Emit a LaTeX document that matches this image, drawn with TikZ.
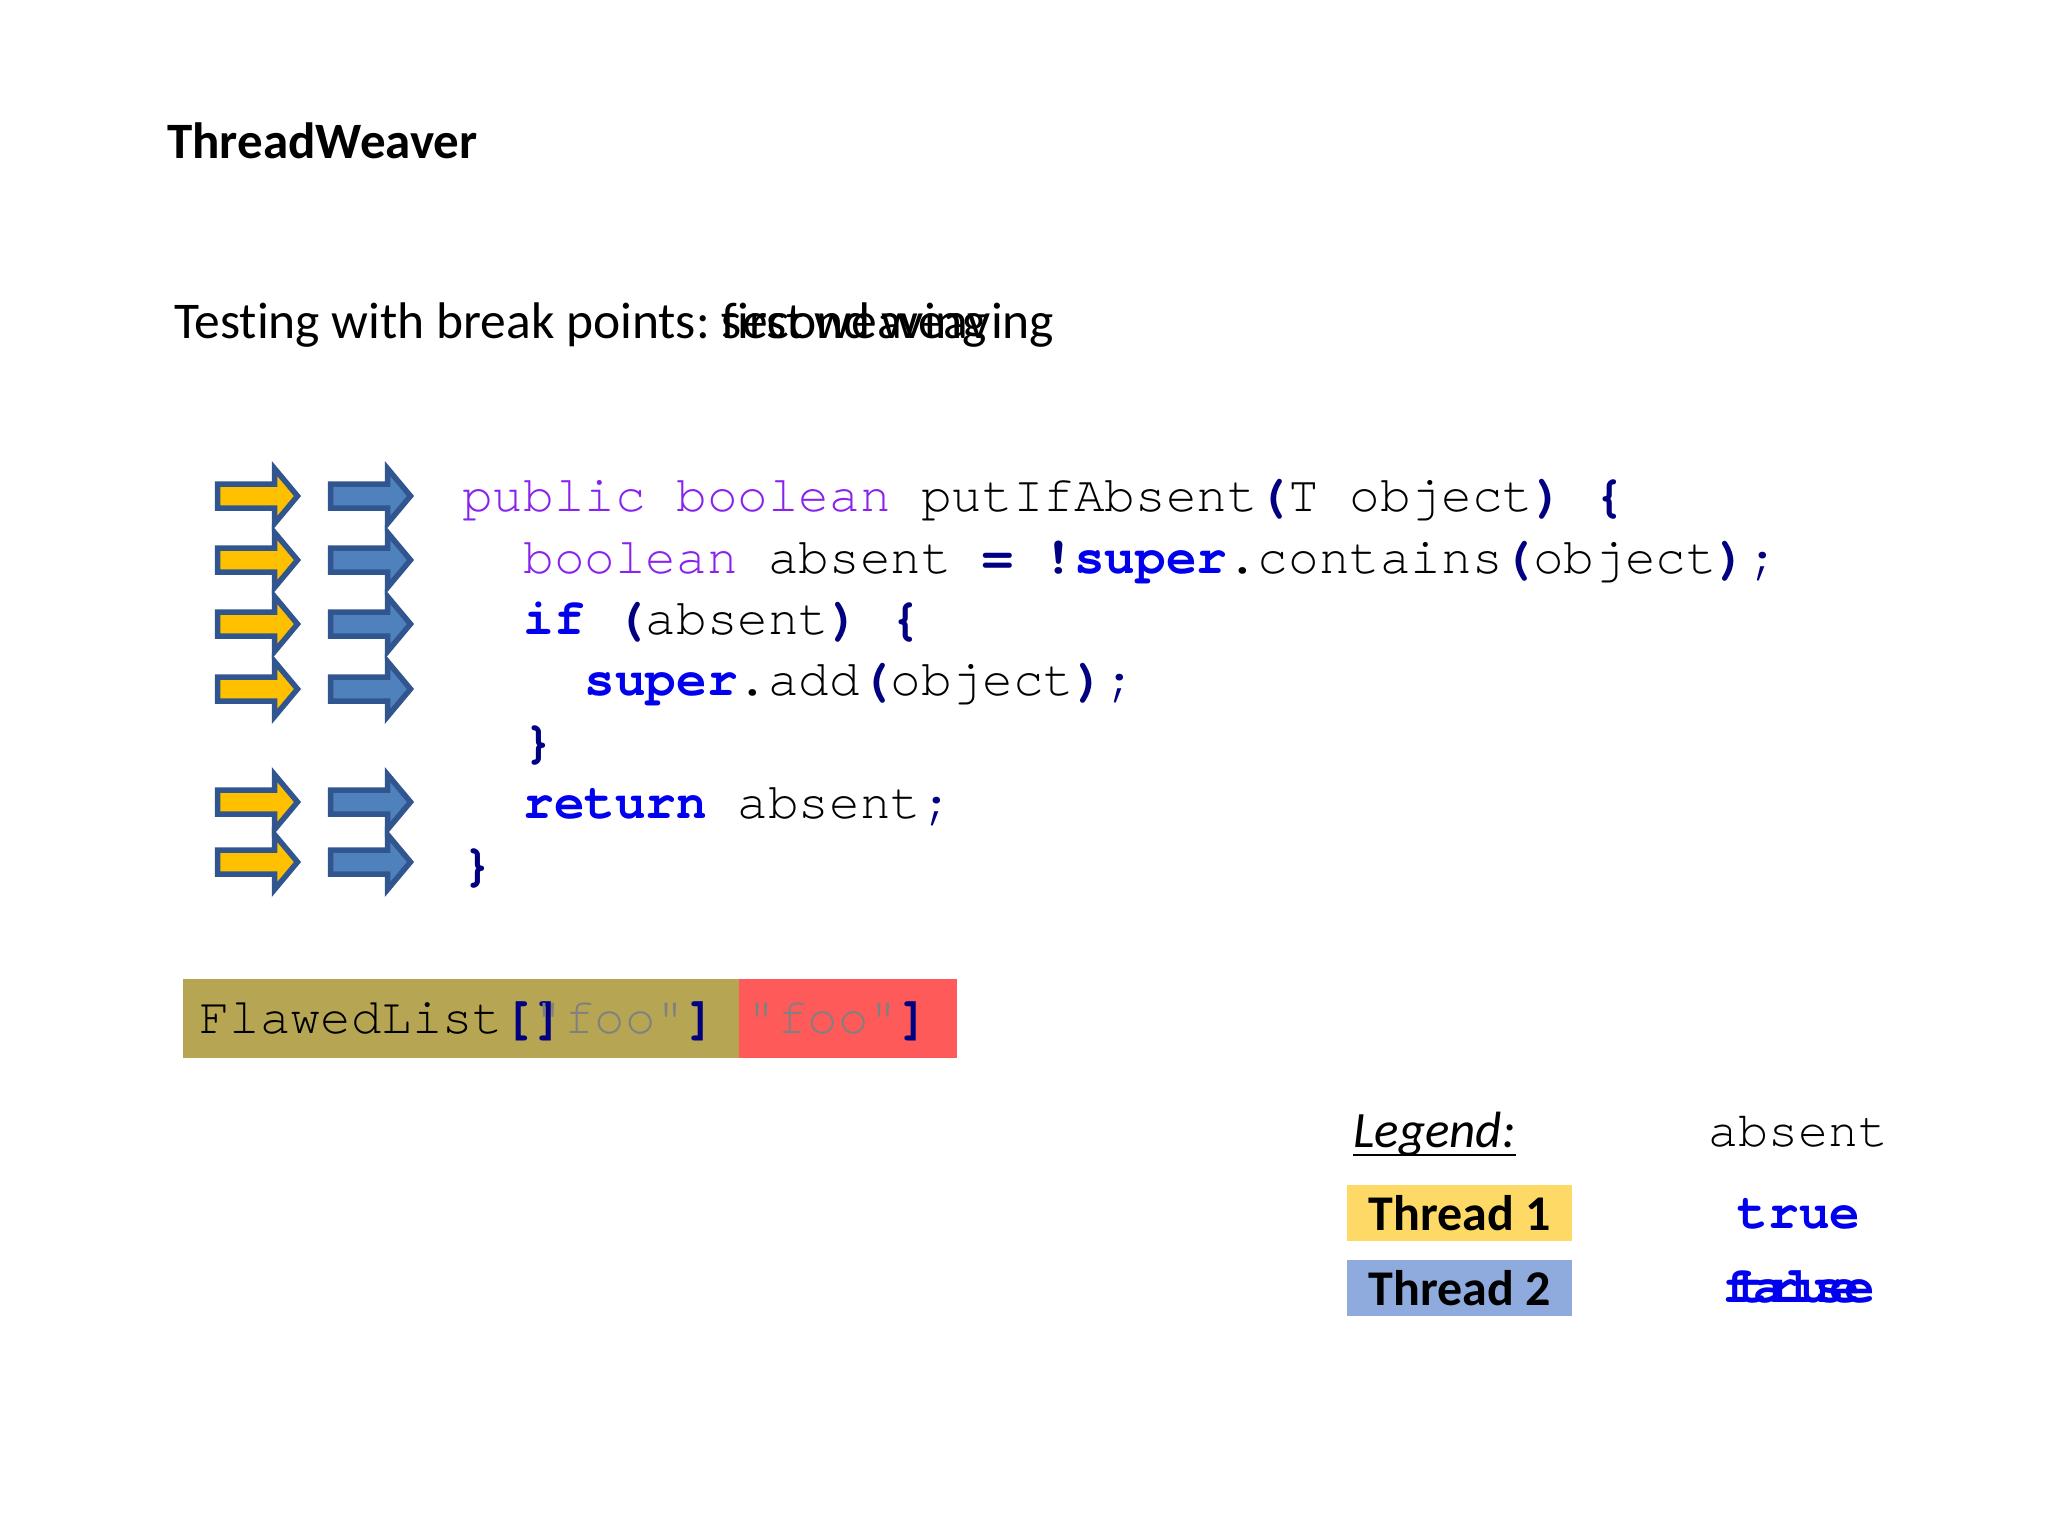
\documentclass[tikz,border=0pt]{standalone}
\usepackage{fontspec}
\setmainfont{Carlito}[Ligatures=NoCommon]
\setmonofont{texgyrecursor}[Extension=.otf, UprightFont=*-regular, BoldFont=*-bold, ItalicFont=*-italic, BoldItalicFont=*-bolditalic]
\definecolor{cpurple}{HTML}{8822EE}
\definecolor{cnavy}{HTML}{000080}
\definecolor{cblue}{HTML}{0000EE}
\definecolor{cgray}{HTML}{808080}
\definecolor{olivebox}{HTML}{B6A654}
\definecolor{redbox}{HTML}{FF5A5A}
\definecolor{t1fill}{HTML}{FFD966}
\definecolor{t2fill}{HTML}{8FAADC}
\definecolor{arrline}{HTML}{31568F}
\definecolor{arryellow}{HTML}{FFC000}
\definecolor{arrblue}{HTML}{4F81BD}
\newcommand{\cnav}[1]{\textcolor{cnavy}{\textbf{#1}}}
\newcommand{\ckw}[1]{\textcolor{cblue}{\textbf{#1}}}
\newcommand{\cpur}[1]{\textcolor{cpurple}{#1}}
\newcommand{\cgry}[1]{\textcolor{cgray}{#1}}
\tikzset{
  pics/barrow/.style={code={
    \draw[line width=5.5pt, draw=arrline, fill=#1, line join=miter]
      (0,-12) -- (57,-12) -- (57,-27.5) -- (80,0) -- (57,27.5) -- (57,12) -- (0,12) -- cycle;
  }},
  codeline/.style={anchor=base west, inner sep=0pt, font=\fontsize{51}{61}\selectfont\ttfamily},
  listtext/.style={anchor=base west, inner sep=0pt, font=\fontsize{50.7}{61}\selectfont\ttfamily},
  threadbox/.style={minimum width=225pt, minimum height=56pt, inner sep=0pt, font=\fontsize{50}{60}\selectfont\bfseries},
  plaintext/.style={anchor=base west, inner sep=0pt},
}
\begin{document}
\begin{tikzpicture}[x=1pt,y=-1pt]
\frenchspacing
\useasboundingbox (0,0) rectangle (2048,1536);
\fill[white] (0,0) rectangle (2048,1536);

% title and subtitle
\node[plaintext, font=\fontsize{51}{60}\selectfont\bfseries] (title) at (167,159) {ThreadWeaver};
\node[plaintext, font=\fontsize{51.5}{60}\selectfont] (sub) at (174,338) {Testing with break points:};
\node[plaintext, font=\fontsize{51.5}{60}\selectfont] (subA) at ([xshift=11.6pt]sub.base east) {first weaving};
\node[plaintext, font=\fontsize{51.5}{60}\selectfont] (subB) at ([xshift=11.6pt]sub.base east) {second weaving};

% arrows
\foreach \yy in {496,560,624,689,802,862}{
  \pic at (217.5,\yy) {barrow=arryellow};
  \pic at (330.5,\yy) {barrow=arrblue};
}

% code
\node[codeline] (c1) at (462,511.5) {\cpur{public boolean} putIfAbsent\cnav{(}T object\cnav{)} \cnav{\{}};
\node[codeline] (c2) at (523.2,573) {\cpur{boolean} absent \cnav{=} \cnav{!}\ckw{super}.contains\cnav{(}object\cnav{)}\textcolor{cnavy}{;}};
\node[codeline] (c3) at (523.2,634.4) {\ckw{if} \cnav{(}absent\cnav{)} \cnav{\{}};
\node[codeline] (c4) at (584.4,695.9) {\ckw{super}.add\cnav{(}object\cnav{)}\textcolor{cnavy}{;}};
\node[codeline] (c5) at (523.2,757.3) {\cnav{\}}};
\node[codeline] (c6) at (523.2,818.8) {\ckw{return} absent\textcolor{cnavy}{;}};
\node[codeline] (c7) at (462,880.2) {\cnav{\}}};

% list state
\fill[olivebox] (183,979) rectangle (739,1058);
\fill[redbox] (739,979) rectangle (957,1058);
\node[listtext] (l1) at (199,1033) {FlawedList\cnav{[]}};
\node[listtext] (l2) at (199,1033) {\phantom{FlawedList[}\cgry{"foo"}\cnav{]}};
\node[listtext] (l3) at (199,1033) {\phantom{FlawedList["foo", }\cgry{"foo"}\cnav{]}};

% legend
\node[plaintext, font=\fontsize{51}{60}\selectfont\itshape] (leg) at (1353,1147) {Legend:};
\draw[line width=2.8pt] ([yshift=-8pt]leg.base west) -- ([yshift=-8pt]leg.base east);
\node[anchor=base, inner sep=0pt, font=\fontsize{50}{60}\selectfont\ttfamily] (abs) at (1798,1146) {absent};
\node[threadbox, fill=t1fill] (t1) at (1459.5,1213) {Thread 1};
\node[threadbox, fill=t2fill] (t2) at (1459.5,1288) {Thread 2};
\node[anchor=base, inner sep=0pt, font=\fontsize{51}{60}\selectfont\ttfamily\bfseries, text=cblue] (v1) at (1799,1228) {true};
\node[anchor=base, inner sep=0pt, font=\fontsize{51}{60}\selectfont\ttfamily\bfseries, text=cblue] (v2a) at (1799,1302) {false};
\node[anchor=base, inner sep=0pt, font=\fontsize{51}{60}\selectfont\ttfamily\bfseries, text=cblue] (v2b) at (1799,1302) {true};
\end{tikzpicture}
\end{document}
